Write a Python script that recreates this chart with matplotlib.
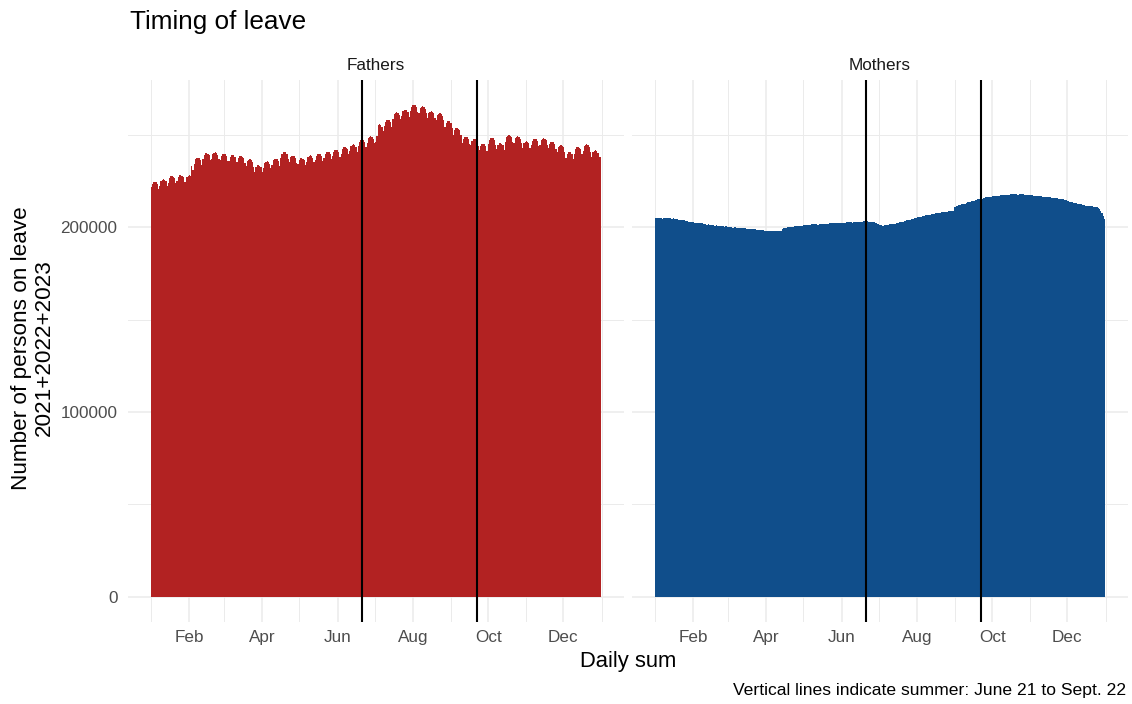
import numpy as np
import pandas as pd
import matplotlib
matplotlib.use("Agg")
import matplotlib.pyplot as plt
import matplotlib.dates as mdates
import matplotlib.ticker as mticker

plt.rcParams['font.family'] = ['Liberation Sans', 'DejaVu Sans']

# daily sum of persons on leave, in thousands, one row per week (Jan 1 = Sunday)
fathers_k = [
    221.5, 223.5, 224.3, 224.5, 224.2, 223.3, 220.7,
    222.3, 224.8, 225.6, 225.8, 225.5, 224.6, 222.0,
    224.0, 226.5, 227.3, 227.5, 227.2, 226.3, 223.7,
    224.6, 227.1, 227.9, 228.1, 227.8, 226.9, 224.3,
    224.5, 227.0, 227.8, 228.0, 227.7, 233.0, 231.0,
    234.0, 236.5, 237.3, 237.5, 237.2, 236.3, 233.7,
    236.5, 239.0, 239.8, 240.0, 239.7, 238.8, 236.2,
    236.8, 239.3, 240.1, 240.3, 240.0, 239.1, 236.5,
    236.0, 238.5, 239.3, 239.5, 239.2, 238.3, 235.7,
    235.5, 238.0, 238.8, 239.0, 238.7, 237.8, 235.2,
    234.9, 237.4, 238.2, 238.4, 238.1, 237.2, 234.6,
    233.0, 235.5, 236.3, 236.5, 236.2, 235.3, 232.7,
    230.0, 232.5, 233.3, 233.5, 233.2, 232.3, 229.7,
    232.0, 234.5, 235.3, 235.5, 235.2, 234.3, 231.7,
    233.5, 236.0, 236.8, 237.0, 236.7, 235.8, 233.2,
    237.1, 239.6, 240.4, 240.6, 240.3, 239.4, 236.8,
    235.1, 237.6, 238.4, 238.6, 238.3, 237.4, 234.8,
    233.8, 236.3, 237.1, 237.3, 237.0, 236.1, 233.5,
    235.2, 237.7, 238.5, 238.7, 238.4, 237.5, 234.9,
    236.1, 238.6, 239.4, 239.6, 239.3, 238.4, 235.8,
    237.1, 239.6, 240.4, 240.6, 240.3, 239.4, 236.8,
    238.3, 240.8, 241.6, 241.8, 241.5, 240.6, 238.0,
    239.7, 242.2, 243.0, 243.2, 242.9, 242.0, 239.4,
    241.1, 243.6, 244.4, 244.6, 244.3, 243.4, 240.8,
    243.7, 246.2, 247.0, 247.2, 246.9, 246.0, 243.4,
    245.5, 248.0, 248.8, 249.0, 248.7, 247.8, 245.2,
    246.0, 249.0, 255.3, 255.5, 255.2, 254.3, 251.7,
    254.5, 257.0, 257.8, 258.0, 257.7, 256.8, 254.2,
    258.5, 261.0, 261.8, 262.0, 261.7, 260.8, 258.2,
    260.0, 262.5, 263.3, 263.5, 263.2, 262.3, 259.7,
    262.5, 265.0, 265.8, 266.0, 265.7, 264.8, 262.2,
    261.7, 264.2, 265.0, 265.2, 264.9, 264.0, 261.4,
    259.1, 261.6, 262.4, 262.6, 262.3, 261.4, 258.8,
    257.9, 260.4, 261.2, 261.4, 261.1, 260.2, 257.6,
    253.9, 256.4, 257.2, 257.4, 257.1, 256.2, 253.6,
    250.0, 252.5, 253.3, 253.5, 253.2, 252.3, 249.7,
    245.3, 247.8, 248.6, 248.8, 248.5, 247.6, 245.0,
    244.1, 246.6, 247.4, 247.6, 247.3, 246.4, 243.8,
    241.5, 244.0, 244.8, 245.0, 244.7, 243.8, 241.2,
    244.7, 247.2, 248.0, 248.2, 247.9, 247.0, 244.4,
    241.9, 244.4, 245.2, 245.4, 245.1, 244.2, 241.6,
    246.1, 248.6, 249.4, 249.6, 249.3, 248.4, 245.8,
    245.5, 248.0, 248.8, 249.0, 248.7, 247.8, 245.2,
    242.9, 245.4, 246.2, 246.4, 246.1, 245.2, 242.6,
    244.1, 246.6, 247.4, 247.6, 247.3, 246.4, 243.8,
    244.5, 247.0, 247.8, 248.0, 247.7, 246.8, 244.2,
    242.5, 245.0, 245.8, 246.0, 245.7, 244.8, 242.2,
    240.7, 243.2, 244.0, 244.2, 243.9, 243.0, 240.4,
    237.1, 239.6, 240.4, 240.6, 240.3, 239.4, 236.8,
    239.7, 242.2, 243.0, 243.2, 242.9, 242.0, 239.4,
    241.1, 243.6, 244.4, 244.6, 244.3, 243.4, 240.8,
    237.9, 240.4, 241.2, 241.4, 241.1, 240.2, 237.6,
    238.0,
]

mothers_k = [
    205.1, 204.9, 204.8, 204.7, 204.6, 204.6, 204.5,
    204.7, 205.0, 205.1, 205.1, 205.0, 204.8, 204.5,
    204.5, 204.6, 204.5, 204.3, 204.1, 203.9, 203.7,
    203.7, 203.9, 203.8, 203.6, 203.4, 203.2, 202.9,
    202.8, 202.9, 202.8, 202.6, 202.4, 202.2, 202.0,
    202.0, 202.2, 202.1, 202.0, 201.8, 201.6, 201.4,
    201.3, 201.4, 201.3, 201.2, 201.1, 200.9, 200.8,
    200.7, 200.9, 200.8, 200.7, 200.6, 200.5, 200.3,
    200.2, 200.4, 200.3, 200.2, 200.1, 200.0, 199.8,
    199.7, 199.9, 199.8, 199.7, 199.6, 199.5, 199.3,
    199.2, 199.4, 199.3, 199.2, 199.1, 199.0, 198.9,
    198.8, 198.9, 198.9, 198.8, 198.7, 198.5, 198.4,
    198.3, 198.5, 198.4, 198.3, 198.2, 198.1, 198.0,
    198.0, 198.1, 198.1, 198.0, 197.9, 197.8, 197.7,
    197.7, 197.8, 197.8, 197.7, 197.8, 199.1, 199.3,
    199.4, 199.7, 199.8, 199.9, 199.9, 200.0, 200.0,
    200.2, 200.5, 200.6, 200.7, 200.7, 200.7, 200.7,
    200.8, 201.0, 201.1, 201.1, 201.1, 201.1, 201.0,
    201.2, 201.4, 201.5, 201.5, 201.4, 201.4, 201.3,
    201.5, 201.7, 201.8, 201.8, 201.7, 201.7, 201.6,
    201.8, 202.0, 202.1, 202.1, 202.0, 202.0, 201.9,
    202.1, 202.3, 202.4, 202.4, 202.3, 202.3, 202.2,
    202.3, 202.5, 202.6, 202.6, 202.5, 202.5, 202.4,
    202.6, 202.8, 202.9, 202.9, 202.8, 202.8, 202.7,
    202.8, 203.0, 203.1, 203.1, 203.0, 202.9, 202.8,
    202.8, 202.9, 202.8, 202.5, 202.2, 201.8, 201.4,
    201.0, 200.9, 200.8, 200.8, 200.9, 201.0, 201.0,
    201.2, 201.5, 201.6, 201.7, 201.7, 201.8, 201.8,
    202.1, 202.4, 202.6, 202.7, 202.8, 202.9, 203.0,
    203.3, 203.6, 203.8, 203.9, 204.0, 204.1, 204.2,
    204.6, 204.9, 205.1, 205.3, 205.4, 205.5, 205.6,
    205.9, 206.2, 206.3, 206.4, 206.5, 206.6, 206.6,
    206.9, 207.1, 207.2, 207.3, 207.4, 207.4, 207.4,
    207.7, 207.9, 208.0, 208.1, 208.1, 208.2, 208.2,
    208.4, 208.6, 208.7, 208.8, 208.8, 211.0, 211.3,
    211.6, 211.9, 212.1, 212.3, 212.4, 212.5, 212.5,
    212.9, 213.3, 213.5, 213.7, 213.8, 213.9, 213.9,
    214.3, 214.7, 214.9, 215.1, 215.2, 215.3, 215.3,
    215.6, 215.9, 216.1, 216.2, 216.3, 216.3, 216.3,
    216.5, 216.8, 216.9, 217.0, 217.0, 217.0, 217.0,
    217.1, 217.3, 217.4, 217.5, 217.5, 217.5, 217.4,
    217.5, 217.7, 217.8, 217.8, 217.8, 217.7, 217.6,
    217.5, 217.7, 217.7, 217.7, 217.6, 217.5, 217.4,
    217.2, 217.3, 217.3, 217.3, 217.2, 217.1, 216.9,
    216.7, 216.8, 216.8, 216.7, 216.6, 216.5, 216.4,
    216.2, 216.4, 216.4, 216.3, 216.2, 216.1, 215.9,
    215.7, 215.8, 215.8, 215.7, 215.6, 215.4, 215.2,
    214.9, 215.0, 214.9, 214.7, 214.5, 214.3, 214.0,
    213.7, 213.6, 213.4, 213.2, 213.0, 212.8, 212.6,
    212.4, 212.4, 212.3, 212.1, 212.0, 211.8, 211.6,
    211.4, 211.4, 211.3, 211.2, 211.1, 211.0, 210.9,
    210.9, 210.8, 210.5, 209.8, 208.8, 207.6, 206.2,
    204.2,
]

panels = ["Fathers", "Mothers"]
colors = {"Fathers": "#B22222", "Mothers": "#104E8B"}
summer = ["2023-06-21", "2023-09-22"]

days = pd.date_range("2023-01-01", periods=365, freq="D")
values = {"Fathers": np.array(fathers_k) * 1000,
          "Mothers": np.array(mothers_k) * 1000}

# ggplot-like expansion (5%) on both axes
x0 = mdates.date2num(days[0]) - 0.5
x1 = mdates.date2num(days[-1]) + 0.5
xpad = 0.05 * (x1 - x0)
ymax = max(v.max() for v in values.values())
ylim = (-0.05 * ymax, ymax * 1.05)

fig = plt.figure(figsize=(11.32, 7.04), dpi=100)
W, H = 1132, 704
ax_w = 495.6 / W
ax_b = 1 - 621.6 / H
ax_h = (621.6 - 80.3) / H
lefts = [128 / W, 632 / W]

grid_col = "#EBEBEB"
for i, name in enumerate(panels):
    ax = fig.add_axes([lefts[i], ax_b, ax_w, ax_h])
    ax.bar(days, values[name], width=1.0, color=colors[name], linewidth=0,
           align="center", zorder=2)
    for d in summer:
        ax.axvline(pd.Timestamp(d), color="black", lw=1.5, zorder=3)

    ax.set_xlim(x0 - xpad, x1 + xpad)
    ax.set_ylim(*ylim)
    ax.xaxis.set_major_locator(mdates.MonthLocator(bymonth=[2, 4, 6, 8, 10, 12]))
    ax.xaxis.set_minor_locator(mdates.MonthLocator(bymonth=[1, 3, 5, 7, 9, 11]))
    ax.xaxis.set_major_formatter(mdates.DateFormatter("%b"))
    ax.yaxis.set_major_locator(mticker.MultipleLocator(100000))
    ax.yaxis.set_minor_locator(mticker.MultipleLocator(50000))
    ax.yaxis.set_major_formatter(mticker.StrMethodFormatter("{x:.0f}"))

    ax.grid(which="major", color=grid_col, lw=1.1, zorder=0)
    ax.grid(which="minor", color=grid_col, lw=0.7, zorder=0)
    ax.set_axisbelow(True)
    for s in ax.spines.values():
        s.set_visible(False)
    ax.tick_params(which="both", length=0, labelsize=12.3, labelcolor="#4D4D4D")
    ax.tick_params(axis="x", pad=6)
    ax.tick_params(axis="y", pad=7.5)
    if i > 0:
        ax.tick_params(axis="y", labelleft=False)
    ax.set_title(name, fontsize=12.3, color="#1A1A1A", pad=7.5)

fig.text(130 / W, 1 - 22 / H, "Timing of leave", fontsize=18.8, ha="left", va="center")
fig.text(627.8 / W, 1 - 661 / H, "Daily sum", fontsize=15.8, ha="center", va="center")
fig.text(33 / W, 1 - 348 / H, "Number of persons on leave\n2021+2022+2023", fontsize=16.2,
         rotation=90, ha="center", va="center", multialignment="center", linespacing=1.1)
fig.text(1126 / W, 1 - 690 / H, "Vertical lines indicate summer: June 21 to Sept. 22",
         fontsize=12.6, ha="right", va="center")

fig.savefig("out.png", dpi=100)
